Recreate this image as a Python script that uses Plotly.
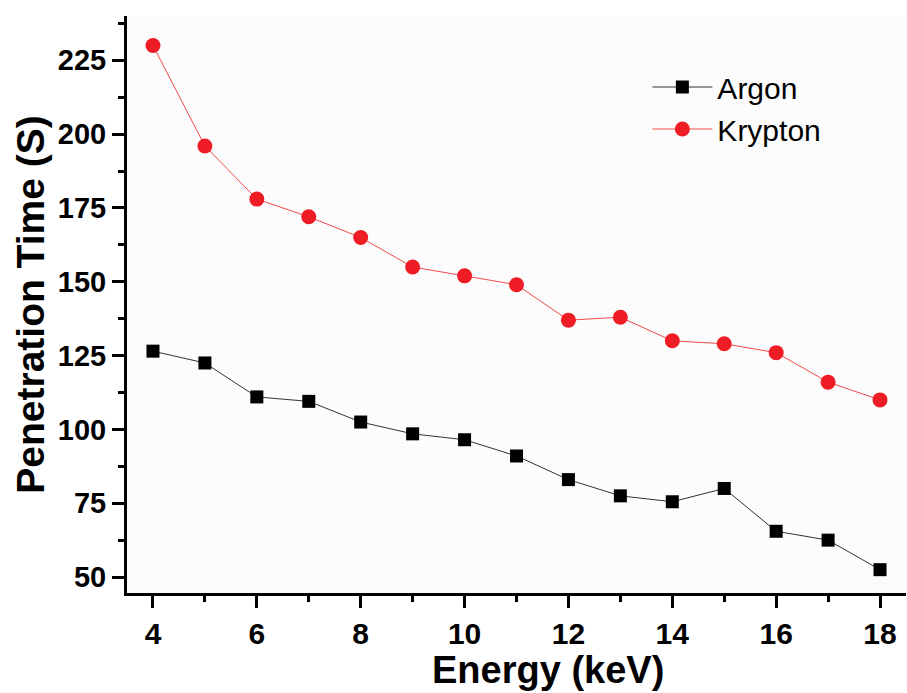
import plotly.graph_objects as go

# Photon energy (keV)
energy = [4, 5, 6, 7, 8, 9, 10, 11, 12, 13, 14, 15, 16, 17, 18]

# Penetration time (S) for each gas
argon = [126.5, 122.5, 111, 109.5, 102.5, 98.5, 96.5, 91, 83, 77.5, 75.5, 80, 65.5, 62.5, 52.5]
krypton = [230, 196, 178, 172, 165, 155, 152, 149, 137, 138, 130, 129, 126, 116, 110]

x_range = [3.5, 18.5]
y_range = [44.6, 240]
x_ticks = [4, 6, 8, 10, 12, 14, 16, 18]
y_ticks = [50, 75, 100, 125, 150, 175, 200, 225]

FONT = "Arial, Liberation Sans, sans-serif"

fig = go.Figure()
fig.add_trace(go.Scatter(
    x=energy, y=argon, name="Argon", mode="lines+markers",
    line=dict(color="#333333", width=1),
    marker=dict(symbol="square", size=13, color="#000000"),
))
fig.add_trace(go.Scatter(
    x=energy, y=krypton, name="Krypton", mode="lines+markers",
    line=dict(color="#f04a4a", width=1),
    marker=dict(symbol="circle", size=15, color="#ee1c25"),
))

axis_common = dict(
    showline=True, linecolor="black", linewidth=3,
    showgrid=False, zeroline=False,
    tickwidth=3, tickcolor="black",
)

fig.update_layout(
    width=907, height=693,
    margin=dict(l=127, r=1, t=16, b=100),
    paper_bgcolor="white", plot_bgcolor="#fcfcfc",
    font=dict(family=FONT, color="black"),
    showlegend=True,
    legend=dict(
        x=0.668, y=0.922, xanchor="left", yanchor="top",
        font=dict(size=30, family=FONT, color="black"),
        bgcolor="rgba(0,0,0,0)", itemwidth=60, tracegroupgap=0,
    ),
    xaxis=dict(
        range=x_range, tickvals=x_ticks, ticks="outside", ticklen=12,
        minor=dict(dtick=1, tick0=0, ticks="outside", ticklen=6, tickwidth=3, tickcolor="black"),
        tickfont=dict(size=30, family=FONT, weight="bold"),
        **axis_common,
    ),
    yaxis=dict(
        range=y_range, tickvals=y_ticks, ticks="outside", ticklen=12,
        minor=dict(dtick=12.5, tick0=0, ticks="outside", ticklen=6, tickwidth=3, tickcolor="black"),
        tickfont=dict(size=29, family=FONT, weight="bold"),
        title=dict(text="<b>Penetration Time (S)</b>", font=dict(size=39, family=FONT), standoff=2),
        **axis_common,
    ),
    xaxis2=dict(
        overlaying="x", side="top", range=x_range, tickvals=x_ticks,
        ticks="inside", ticklen=13, showticklabels=False,
        minor=dict(dtick=1, tick0=0, ticks="inside", ticklen=8, tickwidth=3, tickcolor="black"),
        **axis_common,
    ),
    yaxis2=dict(
        overlaying="y", side="right", range=y_range, tickvals=y_ticks,
        ticks="inside", ticklen=10, showticklabels=False,
        minor=dict(dtick=12.5, tick0=0, ticks="inside", ticklen=5, tickwidth=3, tickcolor="black"),
        **axis_common,
    ),
    annotations=[dict(
        text="<b>Energy (keV)</b>", xref="paper", yref="paper",
        x=0.54, y=-0.1733, xanchor="center", yanchor="bottom",
        showarrow=False, font=dict(size=38, family=FONT, color="black"),
    )],
)

fig.write_html("out.html")
